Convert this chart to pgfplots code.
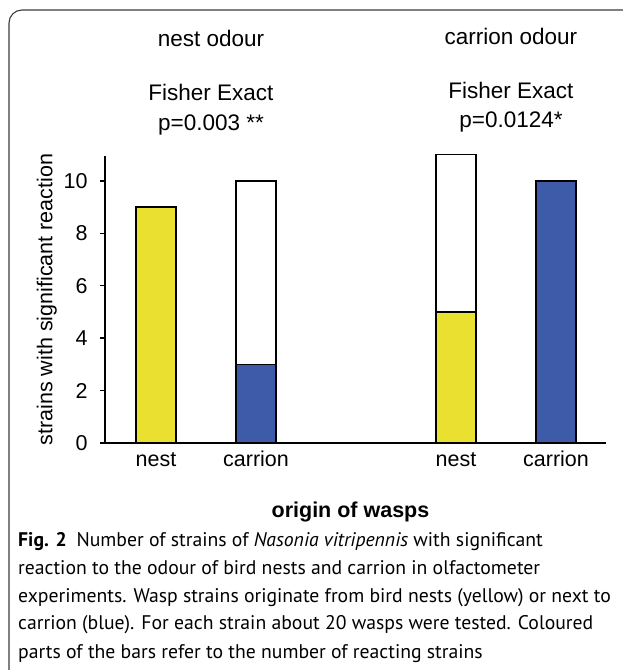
\documentclass[border=0pt]{standalone}
\usepackage{fontspec}
\setmainfont{Liberation Sans}
\newfontfamily\capfont{PT Sans}
\usepackage{pgfplots}
\pgfplotsset{compat=1.18}
\definecolor{nestyel}{RGB}{233,224,48}
\definecolor{carblue}{RGB}{61,91,169}
\definecolor{framegray}{RGB}{60,60,60}
\begin{document}
\begin{tikzpicture}[x=1pt,y=1pt]
\useasboundingbox (0,0) rectangle (623,670);
% frame
\draw[framegray, line width=1.1pt] (623,660) -- (22,660) arc[start angle=90, end angle=180, radius=13] -- (9,0);
% headers
\node[anchor=base, font=\fontsize{22.5}{27}\selectfont, inner sep=0] at (211,623) {nest odour};
\node[anchor=base, font=\fontsize{22.5}{27}\selectfont, inner sep=0] at (511,625) {carrion odour};
\node[anchor=base, font=\fontsize{22.5}{27}\selectfont, inner sep=0] at (211,569) {Fisher Exact};
\node[anchor=base, font=\fontsize{22.5}{27}\selectfont, inner sep=0] at (211,539) {p=0.003 **};
\node[anchor=base, font=\fontsize{22.5}{27}\selectfont, inner sep=0] at (511,571) {Fisher Exact};
\node[anchor=base, font=\fontsize{22.5}{27}\selectfont, inner sep=0] at (511,542) {p=0.0124*};
\begin{axis}[
  at={(105pt,227pt)}, anchor=south west,
  width=501pt, height=287pt, scale only axis,
  xmin=0.49, xmax=5.5, ymin=0, ymax=10.95,
  axis x line=bottom, axis y line=left,
  axis line style={-, line width=1.8pt, black},
  xtick={1,2,4,5}, xticklabels={nest,carrion,nest,carrion},
  x tick style={draw=none},
  ytick={0,2,4,6,8,10},
  y tick style={line width=1.5pt, black},
  tick align=outside, major tick length=5pt,
  tick label style={font=\fontsize{21.5}{26}\selectfont},
  /pgf/number format/assume math mode=true,
  xticklabel style={anchor=base, yshift=-19pt},
  yticklabel style={xshift=-9pt},
  ylabel={strains with significant reaction},
  ylabel style={at={(axis description cs:-0.116,0.5)}, anchor=center, font=\fontsize{21.5}{26}\selectfont},
  xlabel={\textbf{origin of wasps}},
  xlabel style={at={(axis description cs:0.49,0)}, anchor=base, yshift=-75pt, font=\fontsize{21.5}{26}\selectfont},
  ybar, bar width=40pt, bar shift=0pt,
  clip=false,
]
\addplot[fill=white, draw=black, line width=1.5pt] coordinates {(2,10) (4,11)};
\addplot[fill=nestyel, draw=black, line width=1.5pt] coordinates {(1,9) (4,5)};
\addplot[fill=carblue, draw=black, line width=1.5pt] coordinates {(2,3) (5,10)};
\end{axis}
% caption
\begin{scope}[every node/.style={anchor=base west, inner sep=0, font=\capfont\fontsize{19.7}{27}\selectfont}]
\node at (18,123) {\textbf{Fig. 2}\enspace Number of strains of \textit{Nasonia vitripennis} with significant};
\node at (18,95) {reaction to the odour of bird nests and carrion in olfactometer};
\node at (18,67) {experiments. Wasp strains originate from bird nests (yellow) or next to};
\node at (18,40) {carrion (blue). For each strain about 20 wasps were tested. Coloured};
\node at (18,12) {parts of the bars refer to the number of reacting strains};
\end{scope}
\end{tikzpicture}
\end{document}
